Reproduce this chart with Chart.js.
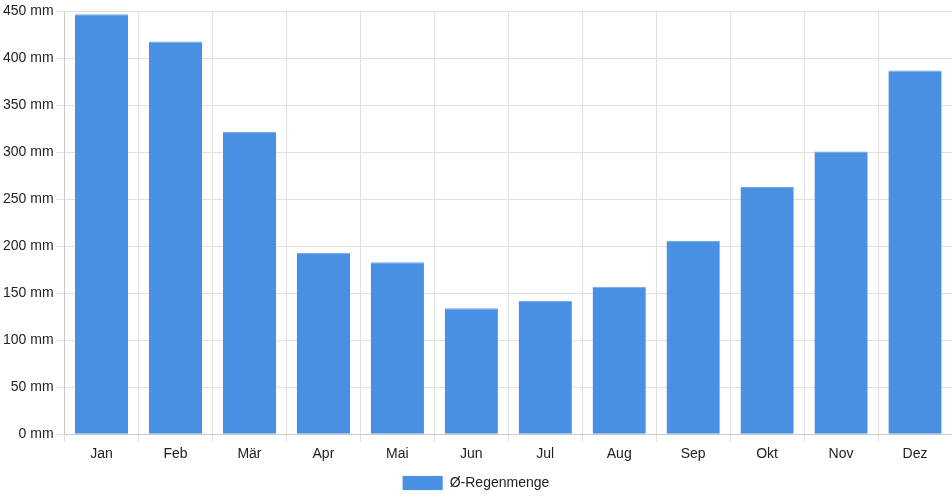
<!DOCTYPE html>
<html>
<head>
<meta charset="utf-8">
<script src="https://cdn.jsdelivr.net/npm/chart.js@4"></script>
<style>
  html, body { margin: 0; padding: 0; background: #fff; }
  #wrap { width: 952px; height: 500px; }
</style>
</head>
<body>
<div id="wrap"><canvas id="rain"></canvas></div>
<script>
"use strict";

// Data
const MONTHS = ["Jan", "Feb", "Mär", "Apr", "Mai", "Jun", "Jul", "Aug", "Sep", "Okt", "Nov", "Dez"];
const RAIN_MM = [447, 418, 322, 193, 183, 134, 142, 157, 206, 263, 301, 387];
const SERIES_LABEL = "Ø-Regenmenge";

Chart.defaults.font.family = "'Liberation Sans', Arial, sans-serif";
Chart.defaults.font.size = 14;
Chart.defaults.color = "#222";

let ctx = document.getElementById("rain").getContext("2d");

let rainChart = new Chart(ctx, {
    type: "bar",
    data: {
        labels: MONTHS,
        datasets: [{
            label: SERIES_LABEL,
            data: RAIN_MM,
            backgroundColor: "#4a90e2",
            borderColor: "#6aa6ea",
            borderWidth: { top: 1, left: 0, right: 0, bottom: 0 }
        }]
    },
    options: {
        responsive: true,
        maintainAspectRatio: false,
        animation: false,
        layout: { padding: { top: 2, right: 0, left: 0, bottom: 0 } },
        plugins: {
            legend: {
                position: "bottom",
                labels: { boxWidth: 40, boxHeight: 14, color: "#222", padding: 9 }
            },
            tooltip: { enabled: false }
        },
        scales: {
            x: {
                grid: { color: "#e0e0e0", offset: true },
                ticks: { color: "#222", padding: 4 }
            },
            y: {
                min: 0,
                max: 450,
                ticks: {
                    stepSize: 50,
                    color: "#222",
                    callback: function(v) { return v + " mm"; }
                },
                grid: { color: "#e0e0e0" }
            }
        }
    }
});
</script>
</body>
</html>
